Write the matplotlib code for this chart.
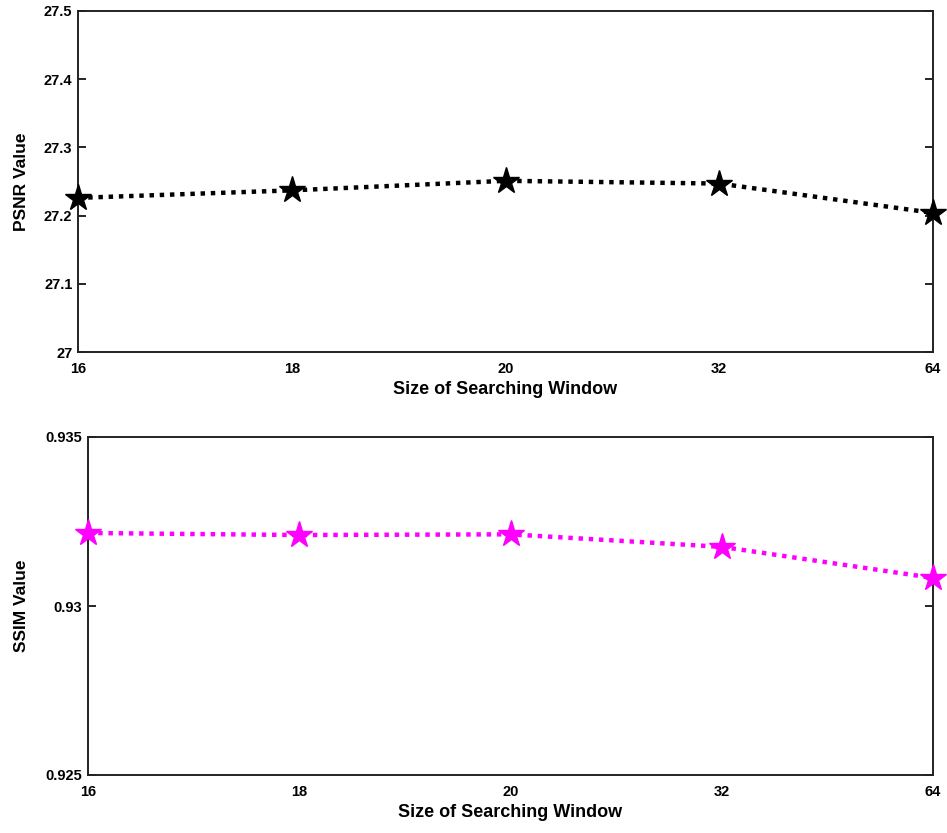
import matplotlib
matplotlib.use("Agg")
import matplotlib.pyplot as plt

window_sizes = ["16", "18", "20", "32", "64"]
psnr_values = [27.226, 27.237, 27.251, 27.247, 27.204]
ssim_values = [0.93216, 0.93210, 0.93212, 0.93175, 0.93083]

plt.rcParams["font.family"] = ["Liberation Sans", "DejaVu Sans"]
plt.rcParams["font.weight"] = "bold"

fig = plt.figure(figsize=(9.47, 8.33), dpi=100)
W, H = 947, 833
ax1 = fig.add_axes([78 / W, 1 - 352 / H, (933 - 78) / W, (352 - 11) / H])
ax2 = fig.add_axes([88 / W, 1 - 775 / H, (933 - 88) / W, (775 - 437) / H])

x = list(range(len(window_sizes)))


def style(ax, ylim, yticks, yticklabels, ylabel, label_x_px):
    ax.set_xlim(0, len(window_sizes) - 1)
    ax.set_ylim(*ylim)
    ax.set_xticks(x)
    ax.set_xticklabels(window_sizes)
    ax.set_yticks(yticks)
    ax.set_yticklabels(yticklabels)
    ax.tick_params(axis="both", direction="in", length=6, width=1.2,
                   labelsize=10.5, right=True, top=False, pad=4)
    ax.tick_params(axis="x", length=0, pad=7)
    for s in ax.spines.values():
        s.set_linewidth(1.4)
        s.set_color("#222222")
    ax.set_xlabel("Size of Searching Window", fontsize=13, fontweight="bold", labelpad=4)
    ax.set_ylabel(ylabel, fontsize=12.5, fontweight="bold")
    # y label at a fixed pixel column, centred on the axes height
    bbox = ax.get_position()
    ax.yaxis.set_label_coords(label_x_px / W, bbox.y0 + bbox.height / 2,
                              transform=fig.transFigure)
    for lab in ax.get_xticklabels() + ax.get_yticklabels():
        lab.set_fontweight("bold")


ax1.plot(x, psnr_values, linestyle=(0, (1, 1.3)), linewidth=3.2, color="black",
         marker="*", markersize=20, clip_on=False, zorder=5)
style(ax1, (27.0, 27.5), [27.0, 27.1, 27.2, 27.3, 27.4, 27.5],
      ["27", "27.1", "27.2", "27.3", "27.4", "27.5"], "PSNR Value", 29)

ax2.plot(x, ssim_values, linestyle=(0, (1, 1.3)), linewidth=3.2, color="#ff00ff",
         marker="*", markersize=20, clip_on=False, zorder=5)
style(ax2, (0.925, 0.935), [0.925, 0.93, 0.935],
      ["0.925", "0.93", "0.935"], "SSIM Value", 29)

fig.savefig("out.png", dpi=100)
